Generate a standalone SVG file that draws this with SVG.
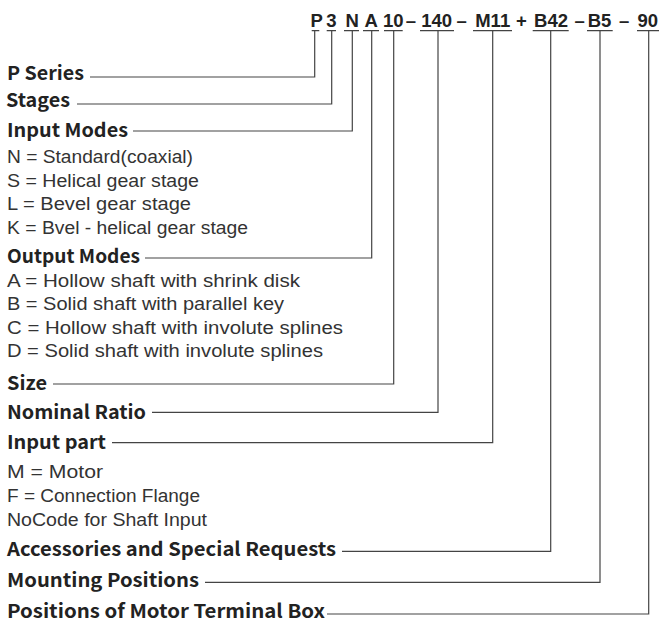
<svg xmlns="http://www.w3.org/2000/svg" width="661" height="622" viewBox="0 0 661 622">
<style>
.hd{font-family:"Liberation Sans",Arial,sans-serif;font-weight:700;font-size:18.5px;fill:#222;text-anchor:middle}
.lb{font-family:"Noto Sans CJK SC","Noto Sans",sans-serif;font-weight:700;font-size:19px;fill:#222}
.it{font-family:"Liberation Sans",Arial,sans-serif;font-size:17.5px;fill:#333}
.ul{stroke:#444;stroke-width:1.2;fill:none}
.cn{stroke:#444;stroke-width:1.2;fill:none}
</style>
<rect width="661" height="622" fill="#fff"/>
<g id="code">
<text class="hd" x="316.7" y="26.7">P</text>
<text class="hd" x="331.4" y="26.7">3</text>
<text class="hd" x="352.2" y="26.7">N</text>
<text class="hd" x="371.3" y="26.7">A</text>
<text class="hd" x="393.3" y="26.7">10</text>
<text class="hd" x="411" y="26.7">–</text>
<text class="hd" x="436.7" y="26.7">140</text>
<text class="hd" x="461.7" y="26.7">–</text>
<text class="hd" x="492.7" y="26.7">M11</text>
<text class="hd" x="521.3" y="26.7">+</text>
<text class="hd" x="551" y="26.7">B42</text>
<text class="hd" x="579.7" y="26.7">–</text>
<text class="hd" x="599.5" y="26.7">B5</text>
<text class="hd" x="624.2" y="26.7">–</text>
<text class="hd" x="647.8" y="26.7">90</text>
<path class="ul" d="M311.7 30.7H319.3M326.7 30.7H336M344 30.7H359M363 30.7H379M384 30.7H402.7M420 30.7H454M473 30.7H512M532.7 30.7H568.7M587 30.7H612.7M637 30.7H659"/>
</g>
<g id="connectors">
<path class="cn" d="M314.7 30.7V77H90"/>
<path class="cn" d="M331.7 30.7V104H77"/>
<path class="cn" d="M352.3 30.7V131H133"/>
<path class="cn" d="M371.7 30.7V258H145"/>
<path class="cn" d="M393.7 30.7V384H53"/>
<path class="cn" d="M438 30.7V412.3H152"/>
<path class="cn" d="M492.7 30.7V442.7H112"/>
<path class="cn" d="M550.7 30.7V551.3H342"/>
<path class="cn" d="M600 30.7V582.3H205"/>
<path class="cn" d="M648.7 30.7V614H327"/>
</g>
<g id="p-series"><text class="lb" x="7" y="80" textLength="77" lengthAdjust="spacingAndGlyphs">P Series</text></g>
<g id="stages"><text class="lb" x="6" y="107" textLength="64" lengthAdjust="spacingAndGlyphs">Stages</text></g>
<g id="input-modes">
<text class="lb" x="7" y="137" textLength="121" lengthAdjust="spacingAndGlyphs">Input Modes</text>
<text class="it" x="7" y="163" textLength="186" lengthAdjust="spacingAndGlyphs">N = Standard(coaxial)</text>
<text class="it" x="7" y="186.5" textLength="192" lengthAdjust="spacingAndGlyphs">S = Helical gear stage</text>
<text class="it" x="7" y="210" textLength="184" lengthAdjust="spacingAndGlyphs">L = Bevel gear stage</text>
<text class="it" x="7" y="233.5" textLength="241" lengthAdjust="spacingAndGlyphs">K = Bvel - helical gear stage</text>
</g>
<g id="output-modes">
<text class="lb" x="7" y="263" textLength="133" lengthAdjust="spacingAndGlyphs">Output Modes</text>
<text class="it" x="7" y="286.5" textLength="293" lengthAdjust="spacingAndGlyphs">A = Hollow shaft with shrink disk</text>
<text class="it" x="7" y="310" textLength="277" lengthAdjust="spacingAndGlyphs">B = Solid shaft with parallel key</text>
<text class="it" x="7" y="333.5" textLength="336" lengthAdjust="spacingAndGlyphs">C = Hollow shaft with involute splines</text>
<text class="it" x="7" y="357" textLength="316" lengthAdjust="spacingAndGlyphs">D = Solid shaft with involute splines</text>
</g>
<g id="size"><text class="lb" x="7" y="390" textLength="40" lengthAdjust="spacingAndGlyphs">Size</text></g>
<g id="nominal-ratio"><text class="lb" x="7" y="419" textLength="139" lengthAdjust="spacingAndGlyphs">Nominal Ratio</text></g>
<g id="input-part">
<text class="lb" x="7" y="449" textLength="99" lengthAdjust="spacingAndGlyphs">Input part</text>
<text class="it" x="7" y="478" textLength="96" lengthAdjust="spacingAndGlyphs">M = Motor</text>
<text class="it" x="7" y="502" textLength="193" lengthAdjust="spacingAndGlyphs">F = Connection Flange</text>
<text class="it" x="7" y="526" textLength="200" lengthAdjust="spacingAndGlyphs">NoCode for Shaft Input</text>
</g>
<g id="accessories"><text class="lb" x="7" y="556" textLength="329" lengthAdjust="spacingAndGlyphs">Accessories and Special Requests</text></g>
<g id="mounting"><text class="lb" x="7" y="587" textLength="192" lengthAdjust="spacingAndGlyphs">Mounting Positions</text></g>
<g id="terminal-box"><text class="lb" x="7" y="618" textLength="318" lengthAdjust="spacingAndGlyphs">Positions of Motor Terminal Box</text></g>
</svg>
